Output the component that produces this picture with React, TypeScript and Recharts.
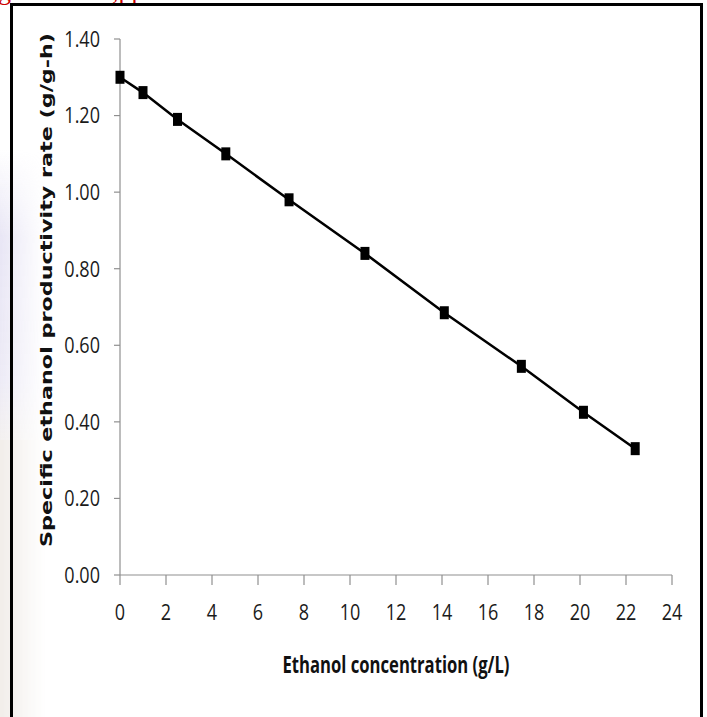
import React from 'react';
import { ComposedChart, Line, XAxis, YAxis, Label } from 'recharts';

const concentration = [0, 1.0, 2.5, 4.6, 7.35, 10.65, 14.1, 17.45, 20.15, 22.4];
const productivity = [1.3, 1.26, 1.19, 1.1, 0.98, 0.84, 0.685, 0.545, 0.425, 0.33];
const xTicks = [0, 2, 4, 6, 8, 10, 12, 14, 16, 18, 20, 22, 24];
const yTicks = [0, 0.2, 0.4, 0.6, 0.8, 1.0, 1.2, 1.4];
const xTitle = 'Ethanol concentration (g/L)';
const yTitle = 'Specific ethanol productivity rate (g/g-h)';

const data = concentration.map((x, i) => ({ x, y: productivity[i] }));

const AXIS = '#8f8f8f';
const TICK_FONT = 'Open Sans';
const SQUEEZE = 0.82;

const SquareDot = (props: any) => {
  const { cx, cy } = props;
  if (cx == null || cy == null) return null;
  return <rect x={cx - 4.5} y={cy - 6.5} width={9} height={13} fill="#000" />;
};

const XTick = (props: any) => {
  const { x, y, payload } = props;
  return (
    <g transform={`translate(${x},${y}) scale(${SQUEEZE},1)`}>
      <text x={0} y={0} dy="0.72em" textAnchor="middle" fontFamily={TICK_FONT} fontSize={22} fill="#1a1a1a">
        {String(payload.value)}
      </text>
    </g>
  );
};

const YTick = (props: any) => {
  const { x, y, payload } = props;
  return (
    <g transform={`translate(${x},${y}) scale(${SQUEEZE},1)`}>
      <text x={0} y={0} dy="0.36em" textAnchor="end" fontFamily={TICK_FONT} fontSize={22} fill="#1a1a1a">
        {Number(payload.value).toFixed(2)}
      </text>
    </g>
  );
};

export default function App() {
  return (
    <div style={{ position: 'absolute', left: 0, top: 0, width: 707, height: 717, overflow: 'hidden', background: '#fff' }}>
      {/* faint watermark tints */}
      <div style={{ position: 'absolute', left: 0, top: 150, width: 45, height: 290, background: 'linear-gradient(180deg, rgba(215,210,238,0), rgba(210,205,235,0.5) 30%, rgba(215,210,235,0.45) 80%, rgba(225,218,215,0.4))', WebkitMaskImage: 'linear-gradient(90deg, #000, transparent)' }} />
      <div style={{ position: 'absolute', left: 0, top: 440, width: 45, height: 277, background: 'rgba(228,220,212,0.5)', WebkitMaskImage: 'linear-gradient(90deg, #000, transparent)' }} />
      {/* red caption fragment cut at top */}
      <div style={{ position: 'absolute', left: -2, top: -21, color: '#cc0000', fontFamily: 'Liberation Serif', fontSize: 26, lineHeight: '26px', whiteSpace: 'nowrap' }}>g</div>
      <div style={{ position: 'absolute', left: 112, top: -21, color: '#cc0000', fontFamily: 'Liberation Serif', fontSize: 26, lineHeight: '26px', whiteSpace: 'nowrap' }}>,pp</div>
      {/* frame */}
      <div style={{ position: 'absolute', left: 10, top: 3, width: 687, height: 800, border: '3px solid #000' }} />
      <div style={{ position: 'absolute', left: 0, top: 0 }}>
        <ComposedChart width={707} height={717} data={data} margin={{ top: 39, right: 35, bottom: 0, left: 0 }}>
          <XAxis
            type="number"
            dataKey="x"
            domain={[0, 24]}
            ticks={xTicks}
            interval={0}
            height={142}
            tickSize={10}
            tickMargin={19}
            axisLine={{ stroke: AXIS, strokeWidth: 1.2 }}
            tickLine={{ stroke: AXIS, strokeWidth: 1.2 }}
            tick={<XTick />}
          >
            <Label
              content={() => (
                <text
                  x={396}
                  y={673}
                  textAnchor="middle"
                  fontFamily="Open Sans"
                  fontWeight="bold"
                  fontSize={23}
                  fill="#111"
                  textLength={227}
                  lengthAdjust="spacingAndGlyphs"
                >
                  {xTitle}
                </text>
              )}
            />
          </XAxis>
          <YAxis
            type="number"
            domain={[0, 1.4]}
            ticks={yTicks}
            interval={0}
            width={120}
            tickSize={6}
            tickMargin={14}
            axisLine={{ stroke: AXIS, strokeWidth: 1.2 }}
            tickLine={{ stroke: AXIS, strokeWidth: 1.2 }}
            tick={<YTick />}
          >
            <Label
              content={() => (
                <text
                  x={52}
                  y={290}
                  transform="rotate(-90 52 290)"
                  textAnchor="middle"
                  fontFamily="DejaVu Sans"
                  fontWeight="bold"
                  fontSize={16}
                  fill="#111"
                  textLength={514}
                  lengthAdjust="spacingAndGlyphs"
                >
                  {yTitle}
                </text>
              )}
            />
          </YAxis>
          <Line
            type="linear"
            dataKey="y"
            stroke="#000"
            strokeWidth={2.5}
            dot={<SquareDot />}
            activeDot={false}
            isAnimationActive={false}
          />
        </ComposedChart>
      </div>
    </div>
  );
}
